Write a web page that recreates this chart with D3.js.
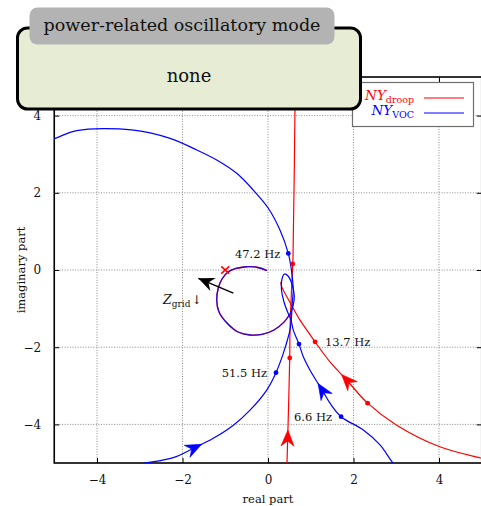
<!DOCTYPE html>
<html>
<head>
<meta charset="utf-8">
<script src="https://cdn.jsdelivr.net/npm/d3@7"></script>
<style>
  body { margin: 0; background: #fff; }
  svg { display: block; }
  svg text { font-family: "DejaVu Serif", serif; fill: #111; }
</style>
</head>
<body>
<svg id="chart" width="481" height="506"></svg>
<script>
// ---- data -------------------------------------------------------------
const xTicks = [-4, -2, 0, 2, 4];
const yTicks = [-4, -2, 0, 2, 4];

// NY_droop: branch rising from -j∞ to +j∞
const droopRise = [[0.44,-5.3],[0.444,-5.0],[0.46,-4.4],[0.508,-2.28],[0.515,-1.55],
  [0.55,-0.52],[0.578,0.155],[0.585,0.32],[0.639,4.97],[0.64,5.3]];
// NY_droop: branch coming in from the lower right
const droopSweep = [[5.4,-4.97],[4.98,-4.87],[4.02,-4.58],[3.01,-4.02],[2.33,-3.45],
  [1.84,-2.85],[1.45,-2.38],[1.10,-1.86],[0.905,-1.55],[0.75,-1.30],[0.51,-0.83],
  [0.32,-0.43],[0.30,-0.31]];

// NY_VOC: outer branch (lower left, up through the origin region, big arc to the left)
const vocOuter = [[-3.3,-5.09],[-2.917,-5.01],[-2.215,-4.86],[-1.747,-4.62],[-1.28,-4.36],
  [-0.81,-4.02],[-0.42,-3.63],[-0.03,-3.11],[0.187,-2.66],[0.358,-2.16],[0.475,-1.73],
  [0.515,-1.55],[0.55,-1.21],[0.568,-0.855],[0.59,-0.52],[0.568,-0.18],[0.53,0.13],
  [0.475,0.43],[0.28,1.036],[0.007,1.60],[-0.344,2.07],[-0.732,2.505],[-1.20,2.85],
  [-1.668,3.11],[-2.29,3.41],[-3.19,3.63],[-4.475,3.61],[-4.98,3.41],[-5.3,3.30]];
// NY_VOC: inner branch (lower right, small lobe)
const vocInner = [[3.1,-5.2],[2.93,-5.01],[2.62,-4.53],[2.23,-4.145],[1.71,-3.80],
  [1.45,-3.45],[1.29,-3.15],[0.98,-2.59],[0.826,-2.25],[0.725,-1.92],[0.59,-1.55],
  [0.538,-1.295],[0.468,-1.114],[0.374,-0.83],[0.316,-0.518],[0.327,-0.233],
  [0.386,-0.104],[0.468,-0.155],[0.56,-0.363],[0.615,-0.674],[0.585,-0.933],[0.515,-1.14]];
// shared encirclement ending at the origin
const sharedLoop = [[0.515,-1.14],[0.374,-1.35],[0.14,-1.554],[-0.14,-1.67],[-0.42,-1.684],
  [-0.70,-1.606],[-0.96,-1.373],[-1.146,-1.088],[-1.20,-0.777],[-1.163,-0.466],
  [-1.076,-0.233],[-0.936,-0.052],[-0.749,0.039],[-0.561,0.078],[-0.42,0.085],
  [-0.234,0.065],[-0.023,-0.013]];

// marked frequencies
const droopMarks = [{re:0.578, im:0.155, label:""}, {re:0.508, im:-2.28, label:""},
  {re:1.10, im:-1.86, label:"13.7 Hz"}, {re:2.33, im:-3.45, label:""}];
const vocMarks = [{re:0.475, im:0.43, label:"47.2 Hz"}, {re:0.187, im:-2.66, label:"51.5 Hz"},
  {re:0.725, im:-1.92, label:""}, {re:1.71, im:-3.80, label:"6.6 Hz"}];

// direction arrows (tip positions on the curves)
const droopArrows = [[0.46,-4.145],[1.708,-2.72]];
const vocArrows = [[1.177,-2.935],[-1.551,-4.534]];

// critical point and grid-impedance hint
const critical = [-1, 0];
const zGridArrow = [[-0.81,-0.60],[-1.63,-0.215]];

// ---- layout -----------------------------------------------------------
const SERIF = '"DejaVu Serif", serif';
const svg = d3.select("#chart");
const x = d3.scaleLinear().domain([-5, 5]).range([54.25, 481.75]);
const y = d3.scaleLinear().domain([-5, 5]).range([463, 77]);
const [x0, x1] = x.range();
const [yb, yt] = y.range();

// chart title (mostly above the visible area)
svg.append("text").attr("x", x(0)).attr("y", -3.5).attr("text-anchor", "middle")
  .style("font-family", SERIF).style("font-size", "15px")
  .text("Nyquist plots of the admittance ratio, droop and VOC");

svg.append("clipPath").attr("id", "plotClip").append("rect")
  .attr("x", x0).attr("y", yt).attr("width", x1 - x0).attr("height", yb - yt);

// grid
const grid = svg.append("g");
grid.selectAll("line.gx").data(xTicks).join("line")
  .attr("x1", d => x(d)).attr("x2", d => x(d)).attr("y1", yt).attr("y2", yb);
grid.selectAll("line.gy").data(yTicks).join("line")
  .attr("y1", d => y(d)).attr("y2", d => y(d)).attr("x1", x0).attr("x2", x1);
grid.selectAll("line").attr("stroke", "#8a8a8a").attr("stroke-width", 1)
  .attr("stroke-dasharray", "1,1.6");

// axes
const fmt = d3.format("");
svg.append("g").attr("transform", `translate(0,${yb})`)
  .call(d3.axisBottom(x).tickValues(xTicks).tickSizeInner(-5).tickSizeOuter(0).tickPadding(12).tickFormat(fmt))
  .call(g => g.select(".domain").remove());
svg.append("g").attr("transform", `translate(${x0},0)`)
  .call(d3.axisLeft(y).tickValues(yTicks).tickSizeInner(-5).tickSizeOuter(0).tickPadding(13).tickFormat(fmt))
  .call(g => g.select(".domain").remove());
svg.append("g").attr("transform", `translate(0,${yt})`)
  .call(d3.axisTop(x).tickValues(xTicks).tickSizeInner(-5).tickSizeOuter(0).tickFormat(""))
  .call(g => g.select(".domain").remove());
svg.append("g").attr("transform", `translate(${x1},0)`)
  .call(d3.axisRight(y).tickValues(yTicks).tickSizeInner(-5).tickSizeOuter(0).tickFormat(""))
  .call(g => g.select(".domain").remove());
svg.selectAll("g").attr("font-family", null);
svg.selectAll(".tick line").attr("stroke", "#000").attr("stroke-width", 1);
svg.selectAll(".tick text").style("font-size", "12px")
  .style("font-family", SERIF).attr("fill", "#111");

svg.append("rect").attr("x", x0).attr("y", yt).attr("width", x1 - x0).attr("height", yb - yt)
  .attr("fill", "none").attr("stroke", "#000").attr("stroke-width", 1.6);

// axis titles
svg.append("text").attr("x", x(0)).attr("y", 503).attr("text-anchor", "middle")
  .style("font-family", SERIF).style("font-size", "11.5px").text("real part");
svg.append("text").attr("transform", `translate(25,${y(0)}) rotate(-90)`)
  .attr("text-anchor", "middle").style("font-family", SERIF).style("font-size", "11.5px")
  .text("imaginary part");

// curves
const plot = svg.append("g").attr("clip-path", "url(#plotClip)");
const line = d3.line().x(d => x(d[0])).y(d => y(d[1])).curve(d3.curveCatmullRom.alpha(0.5));
const draw = (pts, color, width, opacity) => plot.append("path").datum(pts)
  .attr("d", line).attr("fill", "none").attr("stroke", color)
  .attr("stroke-width", width).attr("stroke-opacity", opacity ?? 1).node();

const pDroopRise = draw(droopRise, "#ff0000", 1.2);
const pDroopSweep = draw(droopSweep, "#ff0000", 1.2);
draw(sharedLoop, "#ff0000", 1.3);
draw(sharedLoop, "#0000ff", 1.3, 0.8);
const pVocOuter = draw(vocOuter, "#0000ff", 1.2);
const pVocInner = draw(vocInner, "#0000ff", 1.2);

// arrowheads oriented along the curve
function arrowAt(pathNode, tip, color, len, hw) {
  const tx = x(tip[0]), ty = y(tip[1]);
  const total = pathNode.getTotalLength();
  let best = 0, bestD = Infinity;
  for (let l = 0; l <= total; l += 0.5) {
    const p = pathNode.getPointAtLength(l);
    const d = (p.x - tx) ** 2 + (p.y - ty) ** 2;
    if (d < bestD) { bestD = d; best = l; }
  }
  const p = pathNode.getPointAtLength(best);
  const q = pathNode.getPointAtLength(Math.max(0, best - 4));
  const ang = Math.atan2(p.y - q.y, p.x - q.x) * 180 / Math.PI;
  plot.append("path")
    .attr("d", `M0,0 L${-len},${-hw} L${-len * 0.68},0 L${-len},${hw} Z`)
    .attr("transform", `translate(${p.x},${p.y}) rotate(${ang})`)
    .attr("fill", color).attr("stroke", color).attr("stroke-width", 0.6);
}
arrowAt(pDroopRise, droopArrows[0], "#ff0000", 16, 6.6);
arrowAt(pDroopSweep, droopArrows[1], "#ff0000", 16, 6.6);
arrowAt(pVocInner, vocArrows[0], "#0000ff", 16, 6.6);
arrowAt(pVocOuter, vocArrows[1], "#0000ff", 16, 6.6);

// frequency markers
plot.selectAll("circle.dm").data(droopMarks).join("circle")
  .attr("cx", d => x(d.re)).attr("cy", d => y(d.im)).attr("r", 2.4).attr("fill", "#ff0000");
plot.selectAll("circle.vm").data(vocMarks).join("circle")
  .attr("cx", d => x(d.re)).attr("cy", d => y(d.im)).attr("r", 2.4).attr("fill", "#0000ff");

// frequency labels: left of the marker unless the curve leaves room on the right
const labelSide = { "47.2 Hz": [-8, "end"], "51.5 Hz": [-9, "end"], "13.7 Hz": [10, "start"], "6.6 Hz": [-9, "end"] };
svg.selectAll("text.flab").data(droopMarks.concat(vocMarks).filter(d => d.label)).join("text")
  .attr("x", d => x(d.re) + labelSide[d.label][0]).attr("y", d => y(d.im) + 4.5)
  .attr("text-anchor", d => labelSide[d.label][1])
  .style("font-family", SERIF).style("font-size", "11.5px").text(d => d.label);

// critical point
const cx = x(critical[0]), cy = y(critical[1]);
svg.append("path").attr("d", `M${cx-4},${cy-3.6}L${cx+4},${cy+3.6}M${cx-4},${cy+3.6}L${cx+4},${cy-3.6}`)
  .attr("stroke", "#ff0000").attr("stroke-width", 1.5).attr("fill", "none");

// grid impedance arrow
const za = zGridArrow.map(d => [x(d[0]), y(d[1])]);
const zAng = Math.atan2(za[1][1] - za[0][1], za[1][0] - za[0][0]) * 180 / Math.PI;
svg.append("line").attr("x1", za[0][0]).attr("y1", za[0][1]).attr("x2", za[1][0]).attr("y2", za[1][1])
  .attr("stroke", "#000").attr("stroke-width", 1.3);
svg.append("path").attr("d", "M0,0 L-16,-7 L-11,0 L-16,7 Z")
  .attr("transform", `translate(${za[1][0]},${za[1][1]}) rotate(${zAng})`).attr("fill", "#000");
const zt = svg.append("text").attr("x", 163).attr("y", 304)
  .style("font-family", SERIF).style("font-size", "12.5px");
zt.append("tspan").style("font-style", "italic").text("Z");
zt.append("tspan").attr("dy", 3).style("font-size", "9px").text("grid");
zt.append("tspan").attr("dy", -3).attr("dx", 1).style("font-size", "12px").text("↓");

// legend
const lg = svg.append("g");
lg.append("rect").attr("x", 352.5).attr("y", 82.5).attr("width", 121).attr("height", 44)
  .attr("fill", "#fff").attr("stroke", "#6e6e6e").attr("stroke-width", 1.2);
const legendItems = [{name: "NY", sub: "droop", color: "#ff0000"}, {name: "NY", sub: "VOC", color: "#0000ff"}];
legendItems.forEach((d, i) => {
  const yy = 98 + i * 15;
  const t = lg.append("text").attr("x", 414).attr("y", yy + 2).attr("text-anchor", "end")
    .style("font-family", SERIF).style("font-size", "13.5px").style("fill", d.color);
  t.append("tspan").style("font-style", "italic").style("fill", d.color).text(d.name);
  t.append("tspan").attr("dy", 3).style("font-size", "9.5px").style("fill", d.color).text(d.sub);
  lg.append("line").attr("x1", 424).attr("x2", 464).attr("y1", yy).attr("y2", yy)
    .attr("stroke", d.color).attr("stroke-width", 1.2);
});

// oscillatory-mode box
const box = svg.append("g");
box.append("rect").attr("x", 17.5).attr("y", 28).attr("width", 343).attr("height", 81)
  .attr("rx", 10).attr("fill", "#e7ecd4").attr("stroke", "#000").attr("stroke-width", 3);
box.append("rect").attr("x", 29.5).attr("y", 7.5).attr("width", 305).attr("height", 37)
  .attr("rx", 8).attr("fill", "#b3b3b3");
box.append("text").attr("x", 182).attr("y", 31).attr("text-anchor", "middle")
  .style("font-family", SERIF).style("font-size", "17.5px").text("power-related oscillatory mode");
box.append("text").attr("x", 189).attr("y", 81.5).attr("text-anchor", "middle")
  .style("font-family", SERIF).style("font-size", "18px").text("none");
</script>
</body>
</html>
